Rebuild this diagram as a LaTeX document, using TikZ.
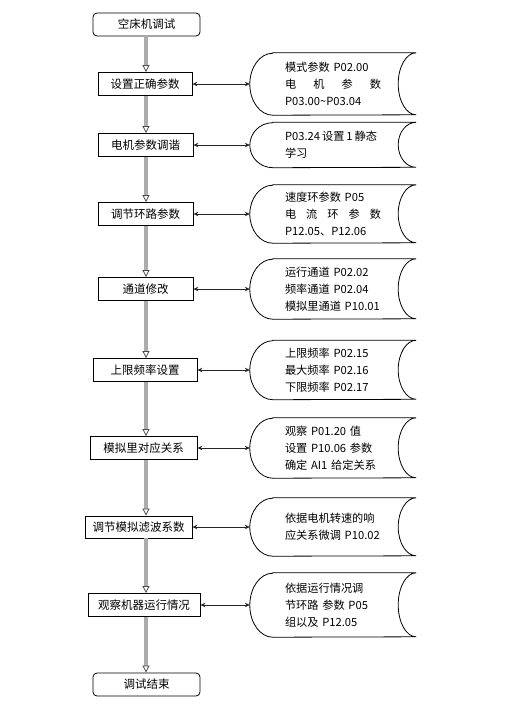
\documentclass[tikz,border=0pt]{standalone}
\usepackage{fontspec}
\setmainfont{Noto Sans CJK SC}
\usetikzlibrary{arrows.meta}
\newcommand{\spread}[1]{\makebox[\linewidth][s]{#1}}
\begin{document}
\begin{tikzpicture}[x=1pt,y=1pt,
  mainbox/.style={draw=black, line width=0.8pt, minimum height=23pt, inner sep=2pt,
    font=\fontsize{11.5}{14}\selectfont},
  endbox/.style={mainbox, rounded corners=4pt},
  datanode/.style={minimum width=166pt, text width=96pt, align=left, inner sep=0pt,
    font=\fontsize{11.2}{17}\selectfont},
  dataline/.style={draw=black, line width=0.8pt},
  flowline/.style={draw=gray!65, line width=3.2pt,
    -{Triangle[open, length=7pt, width=7pt, line width=0.8pt, color=gray!60!black, fill=white]}},
  linkline/.style={draw=black!85, line width=0.8pt,
    {Stealth[length=5pt,width=4.5pt]}-{Stealth[length=5pt,width=4.5pt]}}
]
\useasboundingbox (0,0) rectangle (508,-713);
\coordinate (spine) at (146,0);

% main boxes
\node[endbox, minimum width=107pt] (b1) at (146.5,-24.5) {空床机调试};
\node[mainbox, minimum width=94pt] (b2) at (145,-84) {设置正确参数};
\node[mainbox, minimum width=95pt] (b3) at (145.5,-145) {电机参数调谐};
\node[mainbox, minimum width=95pt] (b4) at (145.5,-214) {调节环路参数};
\node[mainbox, minimum width=95pt] (b5) at (145.5,-289) {通道修改};
\node[mainbox, minimum width=104pt] (b6) at (145,-370) {上限频率设置};
\node[mainbox, minimum width=107pt] (b7) at (143.5,-448) {模拟里对应关系};
\node[mainbox, minimum width=107pt, minimum height=22pt] (b8) at (138.5,-527) {调节模拟滤波系数};
\node[mainbox, minimum width=112pt] (b9) at (144,-605) {观察机器运行情况};
\node[endbox, minimum width=107pt] (b10) at (146.5,-684.5) {调试结束};

% data shapes
\newcommand{\datashape}[5]{%
  \node[datanode, minimum height=#4pt] (#1) at (#2,#3) {#5};
  \draw[dataline] ([xshift=23pt]#1.north west) -- (#1.north east)
    arc[start angle=90, end angle=270, x radius=18pt, y radius=#4pt/2]
    -- ([xshift=23pt]#1.south west)
    arc[start angle=270, end angle=90, x radius=23pt, y radius=#4pt/2] -- cycle;
}
\datashape{d1}{333}{-84}{62}{模式参数 P02.00\\\spread{电\hfill 机\hfill 参\hfill 数}\\P03.00\textasciitilde P03.04}
\datashape{d2}{333}{-145}{45}{\mbox{P03.24\hspace{2pt}设置\hspace{2pt}1\hspace{2pt}静态}\\学习}
\datashape{d3}{333}{-214}{58}{速度环参数 P05\\\spread{电\hfill 流\hfill 环\hfill 参\hfill 数}\\P12.05、P12.06}
\datashape{d4}{333}{-289}{60}{运行通道 P02.02\\频率通道 P02.04\\模拟里通道 P10.01}
\datashape{d5}{333}{-370}{59}{上限频率 P02.15\\最大频率 P02.16\\下限频率 P02.17}
\datashape{d6}{333}{-448}{60}{观察 P01.20 值\\设置 P10.06 参数\\确定 AI1 给定关系}
\datashape{d7}{333}{-527}{58}{依据电机转速的响\\应关系微调 P10.02}
\datashape{d8}{333}{-605}{64}{依据运行情况调\\节环路 参数 P05\\组以及 P12.05}

% vertical flow
\foreach \a/\b in {b1/b2,b2/b3,b3/b4,b4/b5,b5/b6,b6/b7,b7/b8,b8/b9,b9/b10}
  \draw[flowline] (\a.south -| spine) -- (\b.north -| spine);

% links
\foreach \i in {2,...,9}{
  \pgfmathtruncatemacro{\j}{\i-1}
  \draw[linkline] (b\i.east) -- (d\j.west);
}
\end{tikzpicture}
\end{document}
